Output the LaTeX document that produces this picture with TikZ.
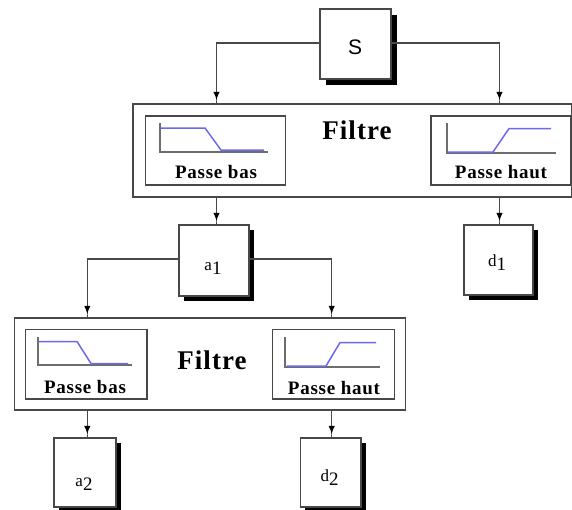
\documentclass[tikz,border=0pt]{standalone}
\usepackage{fontspec}
\setmainfont{Liberation Serif}
\newfontfamily\helv{Liberation Sans}
\newfontfamily\spaced[LetterSpace=4]{Liberation Serif}
\usetikzlibrary{arrows.meta}
\definecolor{ln}{HTML}{484848}
\definecolor{bl}{HTML}{6A6AF0}
\newcommand{\sgl}[2]{{\fontsize{17}{17}\selectfont #1\raisebox{-4pt}{\fontsize{19}{19}\selectfont #2}}}
\tikzset{
  x=1pt,y=-1pt,
  frame/.style={draw=ln,line width=1.4pt,fill=white,inner sep=0pt},
  sig/.style={draw=ln,line width=1.3pt,fill=white,inner sep=0pt,text=black},
  conn/.style={draw=ln,line width=1.1pt,-{Latex[length=8pt,width=6.5pt,sep=0pt,fill=black,color=black] Square[length=3.5pt,width=1.1pt,sep=0pt,color=ln,fill=ln]}},
  bigt/.style={font=\spaced\fontsize{27}{27}\selectfont\bfseries,inner sep=0pt},
  smallt/.style={font=\spaced\fontsize{19}{19}\selectfont\bfseries,inner sep=0pt},
  lab/.style={inner sep=0pt},
  axisl/.style={draw=ln!80,line width=1.2pt},
  curve/.style={draw=bl,line width=1.5pt},
}
\newcommand{\sigbox}[6]{% name, x1,y1,x2,y2,offset
  \fill[black] (#2+#6,#3+#6) rectangle (#4+#6,#5+#6);
  \node[sig,minimum width=#4-#2,minimum height=#5-#3] (#1) at ({(#2+#4)/2},{(#3+#5)/2}) {};
}
\newcommand{\boxn}[5]{%
  \node[frame,minimum width=#4-#2,minimum height=#5-#3] (#1) at ({(#2+#4)/2},{(#3+#5)/2}) {};
}
\begin{document}
\begin{tikzpicture}
\useasboundingbox (0,0) rectangle (572,509);
\clip (0,0) rectangle (572,509);
% connector columns
\coordinate (c1) at (216.5,0);
\coordinate (c2) at (499.5,0);
\coordinate (c3) at (87.3,0);
\coordinate (c4) at (331.7,0);
% first filter
\boxn{fa}{133}{104}{571.5}{197}
\boxn{pb1}{145.5}{116}{285.5}{185}
\boxn{ph1}{431}{116}{570.5}{185}
\node[bigt] (t1) at (357,130) {Filtre};
\node[smallt] (tb1) at (216,172) {Passe bas};
\node[smallt] (th1) at (501,172) {Passe haut};
\draw[axisl] (160,123) -- (160,152) -- (268,152);
\draw[curve] (161,128) -- (205,128) -- (221,150) -- (264,150);
\draw[axisl] (447,123) -- (447,153) -- (556,153);
\draw[curve] (448,152) -- (493,152) -- (509,128.5) -- (551,128.5);
% second filter
\boxn{fb}{14.5}{318}{405.5}{410}
\boxn{pb2}{25.5}{329.5}{147}{399}
\boxn{ph2}{272.5}{329.5}{394.5}{399}
\node[bigt] (t2) at (212,360) {Filtre};
\node[smallt] (tb2) at (85,387) {Passe bas};
\node[smallt] (th2) at (334,388) {Passe haut};
\draw[axisl] (38,337) -- (38,365) -- (132,365);
\draw[curve] (39,341.5) -- (77,341.5) -- (91,363.5) -- (128,363.5);
\draw[axisl] (285,337) -- (285,367) -- (380,367);
\draw[curve] (287,366) -- (326,366) -- (340,342.5) -- (376,342.5);
% signal boxes
\sigbox{s}{320}{9}{391}{79}{5.5}
\sigbox{a1}{179}{225}{249}{296}{5}
\sigbox{d1}{464}{225}{533}{295}{5}
\sigbox{a2}{54}{438}{116}{507}{4.5}
\sigbox{d2}{300.5}{438}{361}{507}{4.5}
\node[lab,font=\helv\fontsize{21}{21}\selectfont] (ls) at (355,47) {S};
\node[lab] (la1) at (213,268) {\sgl{a}{1}};
\node[lab] (ld1) at (497,263) {\sgl{d}{1}};
\node[lab] (la2) at (84,484) {\sgl{a}{2}};
\node[lab] (ld2) at (329.5,478) {\sgl{d}{2}};
% connectors
\draw[conn] (s.west |- 0,43) -| (c1 |- fa.north);
\draw[conn] (s.east |- 0,43) -| (c2 |- fa.north);
\draw[conn] (c1 |- fa.south) -- (c1 |- a1.north);
\draw[conn] (c2 |- fa.south) -- (c2 |- d1.north);
\draw[conn] (a1.west |- 0,259) -| (c3 |- fb.north);
\draw[conn] (a1.east |- 0,259) -| (c4 |- fb.north);
\draw[conn] (c3 |- fb.south) -- (c3 |- a2.north);
\draw[conn] (c4 |- fb.south) -- (c4 |- d2.north);
\end{tikzpicture}
\end{document}
